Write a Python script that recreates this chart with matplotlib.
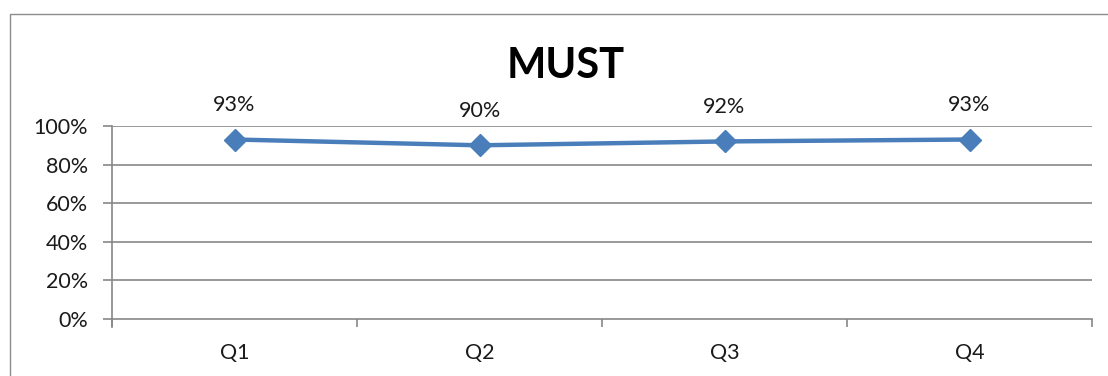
import matplotlib.pyplot as plt
from matplotlib.patches import Rectangle
from matplotlib.ticker import FixedLocator, PercentFormatter

# quarterly MUST scores
quarters = ['Q1', 'Q2', 'Q3', 'Q4']
must_pct = [93, 90, 92, 93]
y_ticks = [0, 20, 40, 60, 80, 100]

plt.rcParams['font.family'] = ['Lato', 'DejaVu Sans']

W, H = 1108, 376
fig = plt.figure(figsize=(W / 100, H / 100), dpi=100)

# chart frame, runs past the right and bottom edges
fig.patches.append(Rectangle((9.5 / W, -0.2), 1.2, 1.2 - 14.5 / H,
                             transform=fig.transFigure, fill=False,
                             edgecolor='#8c8c8c', linewidth=1.0))

ax = fig.add_axes([112 / W, 1 - 319 / H, (1092 - 112) / W, (319 - 126) / H])

grid_col = '#878787'
txt_col = '#1a1a1a'
fs = 15.5
x = [i + 0.5 for i in range(len(quarters))]

ax.set_xlim(0, len(quarters))
ax.set_ylim(0, 100)

for v in y_ticks[1:]:
    ax.axhline(v, color=grid_col, linewidth=1.2, zorder=1)

ax.plot(x, must_pct, color='#4a7ebb', linewidth=3.2, marker='D',
        markersize=11.5, markerfacecolor='#4a7ebb', markeredgecolor='#4a7ebb',
        zorder=3, clip_on=False)

for xi, v in zip(x, must_pct):
    ax.annotate(f'{v}%', (xi, v), xytext=(0, 25), textcoords='offset points',
                ha='center', va='center', fontsize=fs, color=txt_col)

ax.set_yticks(y_ticks)
ax.yaxis.set_major_formatter(PercentFormatter(decimals=0))
ax.set_xticks(x)
ax.set_xticklabels(quarters)
ax.xaxis.set_minor_locator(FixedLocator(range(len(quarters) + 1)))

ax.tick_params(axis='y', length=6.5, width=1.2, color=grid_col, labelsize=fs,
               pad=11, labelcolor=txt_col)
ax.tick_params(axis='x', which='major', length=0, labelsize=fs, pad=17,
               labelcolor=txt_col)
ax.tick_params(axis='x', which='minor', length=6, width=1.2, color=grid_col)

for side in ['top', 'right']:
    ax.spines[side].set_visible(False)
for side in ['left', 'bottom']:
    ax.spines[side].set_color(grid_col)
    ax.spines[side].set_linewidth(1.2)
ax.spines['left'].set_bounds(-4, 100)

fig.text(566 / W, 1 - 66 / H, 'MUST', ha='center', va='center',
         fontsize=30, fontweight='bold', color='black')

fig.savefig('out.png', dpi=100)
